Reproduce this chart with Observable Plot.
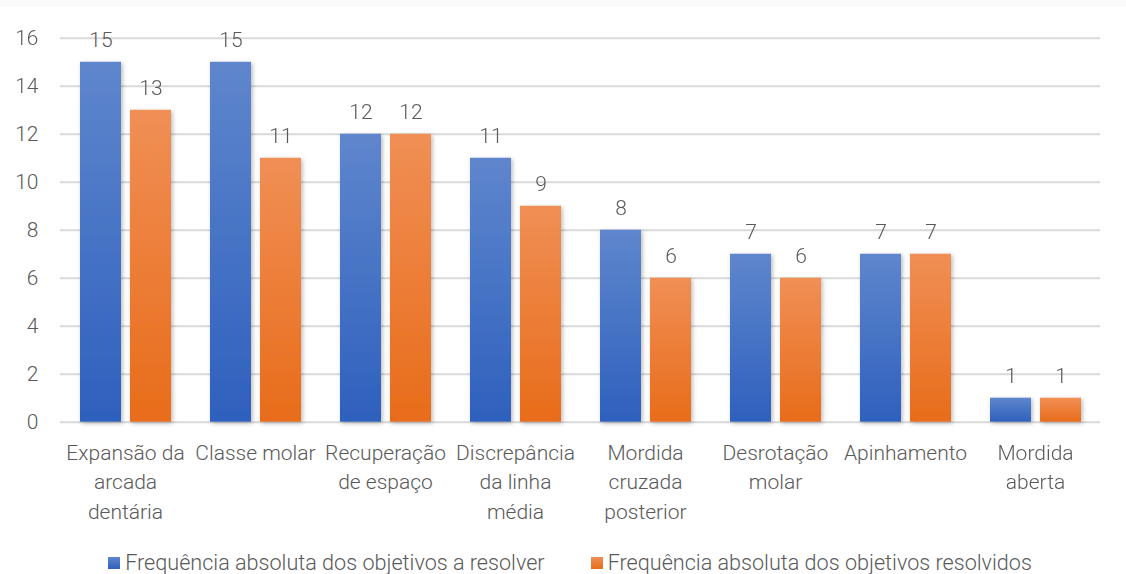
<!DOCTYPE html>
<html>
<head>
<meta charset="utf-8">
<script src="https://cdn.jsdelivr.net/npm/d3@7"></script>
<script src="https://cdn.jsdelivr.net/npm/@observablehq/plot@0.6"></script>
<style>
  html, body { margin: 0; padding: 0; background: #fff; }
  body { width: 1126px; height: 574px; overflow: hidden; font-family: Roboto, "Noto Sans", sans-serif; font-weight: 300; color: #595959; }
  .topstrip { height: 7px; background: #fafafa; }
  #chart svg { display: block; }
  .legend { display: flex; justify-content: center; gap: 46px; font-size: 21.6px; line-height: 22px; margin-top: 20px; padding-left: 14px; }
  .legend .item { display: flex; align-items: center; gap: 5px; }
  .legend .sw { width: 12px; height: 12px; display: inline-block; }
</style>
</head>
<body>
<div class="topstrip"></div>
<div id="chart"></div>
<div class="legend" id="legend"></div>
<script>
// Objectives of orthodontic treatment: how often each was planned vs. achieved
const categories = [
  "Expansão da\narcada\ndentária",
  "Classe molar",
  "Recuperação\nde espaço",
  "Discrepância\nda linha\nmédia",
  "Mordida\ncruzada\nposterior",
  "Desrotação\nmolar",
  "Apinhamento",
  "Mordida\naberta"
];
const seriesNames = [
  "Frequência absoluta dos objetivos a resolver",
  "Frequência absoluta dos objetivos resolvidos"
];
const aResolver = [15, 15, 12, 11, 8, 7, 7, 1];
const resolvidos = [13, 11, 12, 9, 6, 6, 7, 1];
const yTicks = [0, 2, 4, 6, 8, 10, 12, 14, 16];

const gradients = [
  {id: "gBlue", top: "#5f86cd", bottom: "#2e60bd"},
  {id: "gOrange", top: "#f08f55", bottom: "#e86c1a"}
];

const rows = categories.flatMap((c, i) => [
  {category: c, series: seriesNames[0], value: aResolver[i]},
  {category: c, series: seriesNames[1], value: resolvidos[i]}
]);

const chart = Plot.plot({
  width: 1126,
  height: 525,
  marginTop: 30.8,
  marginBottom: 110.3,
  marginLeft: 60,
  marginRight: 26,
  style: {fontFamily: "Roboto, 'Noto Sans', sans-serif", fontWeight: 300, fontSize: "21px", color: "#595959", background: "transparent"},
  fx: {domain: categories, padding: 0, label: null},
  x: {domain: seriesNames, paddingInner: 0.18, paddingOuter: 0.39, axis: null},
  y: {domain: [0, 16], label: null},
  marks: [
    Plot.ruleY(yTicks, {stroke: "#d9d9d9", strokeWidth: 2}),
    Plot.barY(rows.filter(d => d.series === seriesNames[0]), {fx: "category", x: "series", y: "value", fill: "url(#gBlue)"}),
    Plot.barY(rows.filter(d => d.series === seriesNames[1]), {fx: "category", x: "series", y: "value", fill: "url(#gOrange)"}),
    Plot.text(rows, {fx: "category", x: "series", y: "value", text: d => String(d.value), dy: -22, fontSize: 21, fill: "#595959"}),
    Plot.axisY({ticks: yTicks, tickSize: 0, tickPadding: 22, fontSize: 21, label: null}),
    Plot.axisFx({anchor: "bottom", tickSize: 0, tickPadding: 17, fontSize: 21, lineHeight: 1.4, label: null})
  ]
});

// gradient fills and a soft shadow for the bars
const svg = d3.select(chart);
const defs = svg.insert("defs", ":first-child");
for (const g of gradients) {
  const lg = defs.append("linearGradient").attr("id", g.id).attr("x1", 0).attr("y1", 0).attr("x2", 0).attr("y2", 1);
  lg.append("stop").attr("offset", "0%").attr("stop-color", g.top);
  lg.append("stop").attr("offset", "100%").attr("stop-color", g.bottom);
}
const f = defs.append("filter").attr("id", "barShadow").attr("x", "-20%").attr("y", "-20%").attr("width", "150%").attr("height", "150%");
f.append("feDropShadow").attr("dx", 1.5).attr("dy", 1.5).attr("stdDeviation", 2).attr("flood-color", "#000").attr("flood-opacity", 0.28);
svg.selectAll("g[aria-label='bar']").attr("filter", "url(#barShadow)");

document.getElementById("chart").appendChild(chart);

const legend = d3.select("#legend");
seriesNames.forEach((name, i) => {
  const item = legend.append("div").attr("class", "item");
  item.append("span").attr("class", "sw")
    .style("background", `linear-gradient(${gradients[i].top}, ${gradients[i].bottom})`);
  item.append("span").text(name);
});
</script>
</body>
</html>
